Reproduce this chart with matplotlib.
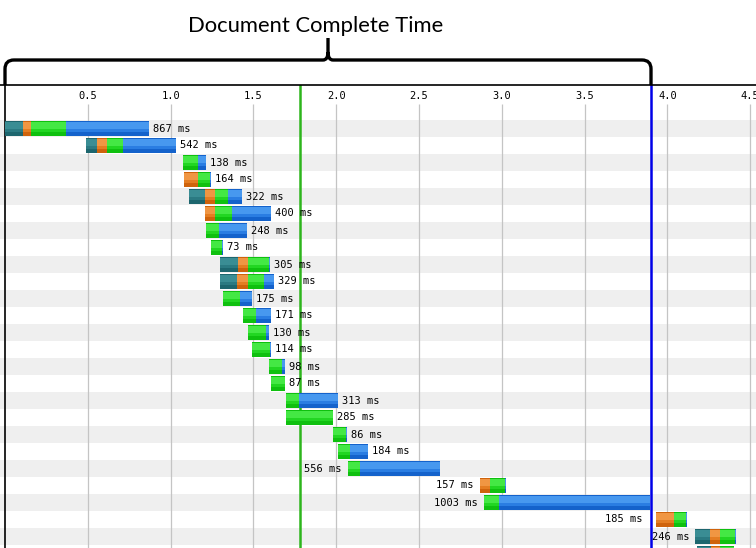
import matplotlib
matplotlib.use('Agg')
import matplotlib.pyplot as plt
from matplotlib.path import Path
from matplotlib.patches import PathPatch

# request start (s) and phase durations (ms) for each row of the waterfall
starts = [0.0, 0.49, 1.075, 1.081, 1.111, 1.208, 1.214, 1.244, 1.298, 1.298,
          1.316, 1.437, 1.467, 1.492, 1.594, 1.606, 1.697, 1.697, 1.981, 2.011,
          2.071, 2.868, 2.893, 3.931, 4.167, 4.18]
dns      = [110, 65, 0, 0, 95, 0, 0, 0, 109, 103, 0, 0, 0, 0, 0, 0, 0, 0, 0, 0, 0, 0, 0, 0, 90, 85]
connect  = [50, 60, 0, 84, 60, 60, 0, 0, 62, 68, 0, 0, 0, 0, 0, 0, 0, 0, 0, 0, 0, 61, 0, 109, 61, 55]
ttfb     = [210, 95, 92, 75, 78, 103, 78, 68, 128, 95, 103, 79, 109, 110, 79, 84, 78, 282, 78, 72, 73, 92, 90, 72, 90, 80]
download = [497, 322, 46, 5, 89, 237, 170, 5, 6, 63, 72, 92, 21, 4, 19, 3, 235, 3, 8, 112, 483, 4, 913, 4, 5, 5]
label_left = [False] * 20 + [True] * 5 + [None]

start_render = 1.781     # green line (s)
doc_complete = 3.901     # blue line (s)
ticks = [0.5, 1.0, 1.5, 2.0, 2.5, 3.0, 3.5, 4.0, 4.5]

# (light, mid, dark) for dns, connect, ttfb, download
phase_colors = [('#3a8d94', '#2b7a82', '#1d666e'),
                ('#f09643', '#e47d22', '#cf630c'),
                ('#44e844', '#22d622', '#0fc00f'),
                ('#4798ef', '#2a7de2', '#1462cb')]

PX = 165.6   # pixels per second
W, H = 756, 548
TOP = 85     # pixel row of the top axis line
xlim = (-5 / PX, (W - 5) / PX)

fig = plt.figure(figsize=(W / 100, H / 100), dpi=100)
ax = fig.add_axes([0, 0, 1, (H - TOP) / H])
ax.set_xlim(xlim)
ax.set_ylim((H - 128.5) / 17, (TOP - 128.5) / 17)
ax.set_xticks([])
ax.set_yticks([])
for s in ['right', 'bottom']:
    ax.spines[s].set_visible(False)
ax.spines['top'].set_linewidth(1.2)
ax.spines['left'].set_position(('data', 0))
ax.spines['left'].set_linewidth(1.2)

n = len(starts)
for i in range(0, n, 2):
    ax.axhspan(i - 0.5, i + 0.5, color='#efefef', lw=0, zorder=0)

mono = 'DejaVu Sans Mono'
grid_top = (104 - 128.5) / 17
for t in ticks:
    ax.vlines(t, grid_top, n + 2, color='#c4c4c4', lw=0.9, zorder=1)
    ax.text(t, (96 - 128.5) / 17, f'{t:.1f}', ha='center', va='center',
            fontsize=7.5, family=mono, zorder=3)

ax.axvline(start_render, color='#2db51c', lw=1.8, zorder=2)
ax.axvline(doc_complete, color='#0000e8', lw=1.8, zorder=2)

h = 0.88
for i in range(n):
    left = starts[i]
    for dur, (light, mid, dark) in zip([dns[i], connect[i], ttfb[i], download[i]], phase_colors):
        if dur == 0:
            continue
        w = dur / 1000.0
        ax.barh(i, w, left=left, height=h, color=mid, lw=0, zorder=4)
        ax.barh(i - h * 0.22, w, left=left, height=h * 0.44, color=light, lw=0, zorder=5)
        ax.barh(i + h * 0.36, w, left=left, height=h * 0.28, color=dark, lw=0, zorder=5)
        ax.barh(i - h / 2 + 0.03, w, left=left, height=0.06, color=dark, lw=0, zorder=6)
        left += w
    if label_left[i] is None:
        continue
    label = f'{dns[i] + connect[i] + ttfb[i] + download[i]} ms'
    if label_left[i]:
        x = starts[i] - 6 / PX
        # keep the text clear of the document complete line
        if doc_complete - 9 / PX < x < doc_complete + 10 / PX:
            x = doc_complete - 9 / PX
        ax.text(x, i, label, ha='right', va='center', fontsize=7.5, family=mono, zorder=7)
    else:
        ax.text(left + 4 / PX, i, label, ha='left', va='center', fontsize=7.5, family=mono, zorder=7)

# header with brace over the document complete span
hx = fig.add_axes([0, (H - TOP) / H, 1, TOP / H])
hx.set_xlim(xlim)
hx.set_ylim(TOP, 0)
hx.axis('off')

e = doc_complete
mid = e / 2
r = 9 / PX
rc = 5 / PX
verts = [(0, TOP), (0, 69), (0, 60), (r, 60), (mid - rc, 60), (mid, 60), (mid, 52), (mid, 38),
         (mid, 52), (mid, 60), (mid + rc, 60), (e - r, 60), (e, 60), (e, 69), (e, TOP)]
codes = [Path.MOVETO, Path.LINETO, Path.CURVE3, Path.CURVE3, Path.LINETO, Path.CURVE3, Path.CURVE3,
         Path.LINETO, Path.MOVETO, Path.CURVE3, Path.CURVE3, Path.LINETO, Path.CURVE3, Path.CURVE3,
         Path.LINETO]
hx.add_patch(PathPatch(Path(verts, codes), fill=False, lw=2.4, ec='black', clip_on=False))

hx.text(mid - 12 / PX, 31.5, 'Document Complete Time', ha='center', va='baseline',
        fontsize=15.8, family='Lato')

fig.savefig('out.png', dpi=100)
